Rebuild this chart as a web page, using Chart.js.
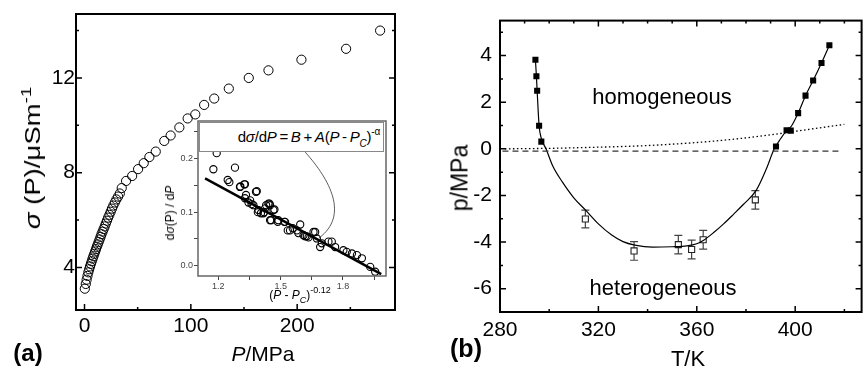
<!DOCTYPE html>
<html><head><meta charset="utf-8">
<script src="https://cdn.jsdelivr.net/npm/chart.js@4.4.1/dist/chart.umd.min.js"></script>
<style>
body{margin:0;background:#fff;}
#wrap{position:relative;width:867px;height:370px;overflow:hidden;background:#fff;font-family:"Liberation Sans",Arial,sans-serif;color:#000}
canvas{position:absolute}
.lbl{position:absolute;white-space:nowrap;transform:translate(-50%,-50%);line-height:1}
sup,sub{line-height:0}
</style></head><body>
<div id="wrap">
<canvas id="ca" width="430" height="370" style="left:0;top:0"></canvas>
<canvas id="cb" width="437" height="370" style="left:430px;top:0"></canvas>
<canvas id="ci" width="245" height="200" style="left:150px;top:110px"></canvas>

<div class="lbl" style="left:33px;top:158px;font-size:22px;transform:translate(-50%,-50%) rotate(-90deg) scaleX(1.25)"><i>σ</i> (P)/μSm<sup style="font-size:15px;vertical-align:9px">-1</sup></div>
<div class="lbl" style="left:263px;top:353px;font-size:21px"><i>P</i>/MPa</div>
<div class="lbl" style="left:28px;top:353px;font-size:24px;font-weight:bold">(a)</div>

<div class="lbl" style="left:170px;top:213px;font-size:12px;transform:translate(-50%,-50%) rotate(-90deg)">d<i>σ</i>(P) / d<i>P</i></div>
<div class="lbl" style="left:300px;top:295px;font-size:12px">(<i>P</i> - <i>P</i><sub style="font-size:9px;vertical-align:-4px"><i>C</i></sub>)<sup style="font-size:9px;vertical-align:6px">-0.12</sup></div>
<div style="position:absolute;left:199px;top:122px;width:185px;height:30px;box-sizing:border-box;border:1.5px solid #888;background:#fff;font-size:15px;white-space:nowrap;text-align:right;padding-right:3px;line-height:27px;letter-spacing:-0.2px"><span>d<i>σ</i>/d<i>P</i>&thinsp;=&thinsp;<i>B</i>&thinsp;+&thinsp;<i>A</i>(<i>P</i>&thinsp;-&thinsp;<i>P</i><sub style="font-size:10px;vertical-align:-5px"><i>C</i></sub>)<sup style="font-size:10px;vertical-align:7px">-α</sup></span></div>

<div class="lbl" style="left:662px;top:97px;font-size:22px">homogeneous</div>
<div class="lbl" style="left:663px;top:288px;font-size:22px">heterogeneous</div>
<div class="lbl" style="left:460px;top:178px;font-size:23px;transform:translate(-50%,-50%) rotate(-90deg)">p/MPa</div>
<div class="lbl" style="left:688px;top:359px;font-size:22px">T/K</div>
<div class="lbl" style="left:466px;top:348px;font-size:25px;font-weight:bold">(b)</div>
</div>
<script>
// ---------- data: panel (a) ----------
const pressureMPa = [0.3,1.2,2.0,2.8,3.6,4.4,5.2,6.0,6.8,7.6,8.4,9.2,10.0,10.8,11.6,12.4,13.3,14.2,15.1,16.0,17.0,18.0,19.0,20.0,21.1,22.2,23.4,24.6,25.8,27.1,28.5,30.0,31.6,33.2,35.0,39.1,44.8,50.4,55.7,61.0,67.0,75.0,81.0,89.2,97.0,104.2,112.5,122.0,135.7,154.5,173.0,204.0,246.0,278.0];
const conductivity = [3.10,3.30,3.48,3.64,3.79,3.92,4.04,4.15,4.26,4.37,4.47,4.57,4.67,4.77,4.87,4.97,5.07,5.18,5.29,5.40,5.51,5.62,5.73,5.85,5.97,6.10,6.22,6.35,6.48,6.61,6.74,6.87,6.99,7.12,7.35,7.65,7.86,8.15,8.40,8.66,8.89,9.34,9.57,9.91,10.29,10.46,10.86,11.13,11.55,12.0,12.32,12.77,13.23,14.0];
// inset
const insetX = [1.192,1.176,1.280,1.245,1.253,1.306,1.325,1.304,1.328,1.333,1.381,1.385,1.328,1.353,1.345,1.360,1.369,1.393,1.417,1.425,1.430,1.441,1.446,1.449,1.465,1.470,1.390,1.405,1.420,1.449,1.454,1.486,1.489,1.518,1.521,1.534,1.545,1.558,1.578,1.585,1.594,1.610,1.618,1.626,1.634,1.658,1.666,1.674,1.690,1.698,1.730,1.746,1.762,1.802,1.818,1.843,1.867,1.891,1.931,1.955];
const insetY = [0.210,0.180,0.183,0.160,0.156,0.148,0.152,0.147,0.152,0.132,0.138,0.139,0.126,0.122,0.118,0.115,0.113,0.104,0.098,0.107,0.113,0.116,0.116,0.113,0.104,0.105,0.100,0.098,0.100,0.085,0.085,0.082,0.085,0.082,0.082,0.066,0.066,0.070,0.066,0.061,0.077,0.057,0.055,0.055,0.053,0.063,0.063,0.051,0.035,0.042,0.045,0.045,0.035,0.029,0.026,0.023,0.020,0.014,-0.002,-0.011];
const fitX = [1.136, 1.984];
const fitY = [0.163, -0.0155];
const calloutX = [1.618, 1.738, 1.830, 1.685];
const calloutY = [0.212, 0.160, 0.094, 0.052];
// ---------- data: panel (b) ----------
const tempFilled = [294.4,294.8,295.1,295.9,296.8,392.2,396.5,398.2,401.2,404.2,407.3,410.7,413.9];
const pFilled    = [3.82,3.11,2.49,0.99,0.31,0.10,0.80,0.78,1.53,2.28,2.93,3.68,4.44];
const tempOpen = [314.7,334.5,352.5,357.9,362.6,383.8];
const pOpen    = [-3.01,-4.38,-4.11,-4.32,-3.90,-2.19];
const pOpenErr = [0.38,0.40,0.40,0.40,0.40,0.40];
const curveT = [294.4,294.8,295.1,295.9,296.8,298.7,301.5,305.4,310,314.7,320,325.4,330,334.8,342,350,356,360,362.8,367,370.9,375,378.9,384.2,388.2,391.5,394,396.5,398.5,401.2,404.2,407.3,410.7,413.9];
const curveP = [3.82,3.11,2.49,0.99,0.45,0.0,-0.75,-1.43,-2.10,-2.62,-3.22,-3.70,-3.98,-4.13,-4.22,-4.20,-4.16,-4.07,-3.92,-3.58,-3.22,-2.80,-2.39,-1.77,-0.88,0.0,0.42,0.78,0.98,1.53,2.28,2.93,3.68,4.44];
const dottedT = [282,300,320,330,340,350,360,370,380,390,400,410,420];
const dottedP = [0.0,0.02,0.07,0.10,0.14,0.20,0.27,0.36,0.47,0.60,0.75,0.90,1.05];
const dashedT = [281,418];
const dashedP = [-0.1,-0.1];
// ---------- tick values ----------
const aXTicks = [0,100,200], aXMinor = [50,150,250];
const aYTicks = [4,8,12], aYMinor = [6,10,14];
const bXTicks = [280,320,360,400], bXMinorBottom = [300,340,380,420];
const bXMinorTop = [290,300,310,330,340,350,370,380,390,410,420];
const bYTicks = [-6,-4,-2,0,2,4], bYMinor = [-7,-5,-3,-1,1,3,5];
const insetXTicks = [1.2,1.5,1.8], insetXMinor = [1.35,1.65,1.95];
const insetYTicks = [0,0.1,0.2], insetYMinor = [0.05,0.15,0.25];

const FONT = '"Liberation Sans", Arial, sans-serif';
const pts = (xs, ys) => xs.map((x, i) => ({x, y: ys[i]}));

const framePlugin = {
  id: 'frame',
  beforeDraw(chart, args, o) {
    if (!o.fill) return;
    const a = chart.chartArea, ctx = chart.ctx;
    ctx.save(); ctx.fillStyle = o.fill;
    ctx.fillRect(a.left, a.top, a.right - a.left, a.bottom - a.top);
    ctx.restore();
  },
  afterDraw(chart, args, o) {
    const {ctx, chartArea: a, scales} = chart;
    ctx.save();
    ctx.strokeStyle = o.color; ctx.lineWidth = o.width;
    ctx.strokeRect(a.left, a.top, a.right - a.left, a.bottom - a.top);
    ctx.lineWidth = o.tickWidth || 1.5;
    ctx.beginPath();
    const t = o.ticks || {};
    for (const side of Object.keys(t)) {
      const spec = t[side];
      const horiz = side === 'top' || side === 'bottom';
      const sc = horiz ? scales.x : scales.y;
      for (const [vals, len] of [[spec.major, o.majorLen], [spec.minor, o.minorLen]]) {
        for (const v of (vals || [])) {
          const p = sc.getPixelForValue(v);
          if (side === 'bottom') { ctx.moveTo(p, a.bottom); ctx.lineTo(p, a.bottom - len); }
          if (side === 'top') { ctx.moveTo(p, a.top); ctx.lineTo(p, a.top + len); }
          if (side === 'left') { ctx.moveTo(a.left, p); ctx.lineTo(a.left + len, p); }
          if (side === 'right') { ctx.moveTo(a.right, p); ctx.lineTo(a.right - len, p); }
        }
      }
    }
    ctx.stroke();
    ctx.restore();
  }
};

const errorBars = {
  id: 'errorBars',
  beforeDatasetsDraw(chart) {
    const {ctx, scales} = chart;
    chart.data.datasets.forEach((ds, i) => {
      if (!ds.errors) return;
      const meta = chart.getDatasetMeta(i);
      ctx.save();
      ctx.strokeStyle = '#444'; ctx.lineWidth = 1.2;
      meta.data.forEach((el, j) => {
        const v = ds.data[j].y, e = ds.errors[j];
        const y1 = scales.y.getPixelForValue(v + e), y2 = scales.y.getPixelForValue(v - e);
        ctx.beginPath();
        ctx.moveTo(el.x, y1); ctx.lineTo(el.x, y2);
        ctx.moveTo(el.x - 4, y1); ctx.lineTo(el.x + 4, y1);
        ctx.moveTo(el.x - 4, y2); ctx.lineTo(el.x + 4, y2);
        ctx.stroke();
      });
      ctx.restore();
    });
  }
};

const callout = {
  id: 'callout',
  afterDatasetsDraw(chart) {
    const {ctx, scales} = chart;
    const px = calloutX.map(v => scales.x.getPixelForValue(v));
    const py = calloutY.map(v => scales.y.getPixelForValue(v));
    ctx.save();
    ctx.strokeStyle = '#333'; ctx.lineWidth = 0.8;
    ctx.beginPath();
    ctx.moveTo(px[0], py[0]);
    ctx.bezierCurveTo(px[1], py[1], px[2], py[2], px[3], py[3]);
    ctx.stroke();
    ctx.restore();
  }
};

const fixTicks = (vals) => s => { s.ticks = vals.map(v => ({value: v})); };
const baseOpts = {
  responsive: false, animation: false, devicePixelRatio: 1,
  events: [],
};

// ---------- chart (a) ----------
new Chart(document.getElementById('ca'), {
  type: 'scatter',
  data: { datasets: [{
    data: pts(pressureMPa, conductivity),
    pointRadius: 4.6, pointBorderWidth: 1, pointBorderColor: '#000',
    pointBackgroundColor: 'rgba(0,0,0,0)', showLine: false
  }]},
  options: Object.assign({}, baseOpts, {
    layout: {padding: {left: 0, top: 14, right: 35, bottom: 0}},
    plugins: {
      legend: {display: false}, tooltip: {enabled: false},
      frame: {color: '#000', width: 2, tickWidth: 1.5, majorLen: 6, minorLen: 3,
        ticks: {bottom: {major: aXTicks, minor: aXMinor}, left: {major: aYTicks, minor: aYMinor}, right: {major: aYTicks, minor: aYMinor}}}
    },
    scales: {
      x: {type: 'linear', min: -8, max: 292,
        grid: {display: false, drawTicks: false}, border: {display: false},
        ticks: {autoSkip: false, maxRotation: 0, color: '#000', padding: 4, font: {family: FONT, size: 21}},
        afterBuildTicks: fixTicks(aXTicks), afterFit: s => { s.height = 60; }},
      y: {type: 'linear', min: 2.2, max: 14.7,
        grid: {display: false, drawTicks: false}, border: {display: false},
        ticks: {autoSkip: false, color: '#000', padding: 1, font: {family: FONT, size: 21}},
        afterBuildTicks: fixTicks(aYTicks), afterFit: s => { s.width = 76; }}
    }
  }),
  plugins: [framePlugin]
});

// ---------- inset ----------
const insetAllX = insetXTicks.concat(insetXMinor).sort((a, b) => a - b);
const insetAllY = insetYTicks.concat(insetYMinor).sort((a, b) => a - b);
new Chart(document.getElementById('ci'), {
  type: 'scatter',
  data: { datasets: [
    {data: pts(fitX, fitY), showLine: true, borderColor: '#000', borderWidth: 2.5, pointRadius: 0},
    {data: pts(insetX, insetY), showLine: false, pointRadius: 3.6, pointBorderWidth: 1.1,
     pointBorderColor: '#000', pointBackgroundColor: 'rgba(0,0,0,0)'}
  ]},
  options: Object.assign({}, baseOpts, {
    layout: {padding: {left: 0, top: 11, right: 9, bottom: 0}},
    plugins: {
      legend: {display: false}, tooltip: {enabled: false},
      frame: {color: '#666', width: 1.5, fill: '#fff', ticks: {}}
    },
    scales: {
      x: {type: 'linear', min: 1.102, max: 2.007,
        grid: {display: true, drawOnChartArea: false, drawTicks: true, tickLength: 4, color: '#444', lineWidth: 1},
        border: {display: false},
        ticks: {autoSkip: false, maxRotation: 0, color: '#444', padding: 1, font: {family: FONT, size: 9},
          callback: v => insetXTicks.some(t => Math.abs(t - v) < 1e-6) ? v.toFixed(1) : ''},
        afterBuildTicks: fixTicks(insetAllX), afterFit: s => { s.height = 34; }},
      y: {type: 'linear', min: -0.019, max: 0.27,
        grid: {display: true, drawOnChartArea: false, drawTicks: true, tickLength: 4, color: '#444', lineWidth: 1},
        border: {display: false},
        ticks: {autoSkip: false, color: '#444', padding: 1, font: {family: FONT, size: 9},
          callback: v => insetYTicks.some(t => Math.abs(t - v) < 1e-6) ? v.toFixed(1) : ''},
        afterBuildTicks: fixTicks(insetAllY), afterFit: s => { s.width = 48; }}
    }
  }),
  plugins: [framePlugin, callout]
});

// ---------- chart (b) ----------
new Chart(document.getElementById('cb'), {
  type: 'scatter',
  data: { datasets: [
    {data: pts(dashedT, dashedP), showLine: true, borderColor: '#333', borderWidth: 1.3, borderDash: [6, 4], pointRadius: 0},
    {data: pts(dottedT, dottedP), showLine: true, borderColor: '#000', borderWidth: 1.3, borderDash: [1.5, 2.5], pointRadius: 0, cubicInterpolationMode: 'monotone'},
    {data: pts(curveT, curveP), showLine: true, borderColor: '#000', borderWidth: 1.2, pointRadius: 0, cubicInterpolationMode: 'monotone'},
    {data: pts(tempOpen, pOpen), errors: pOpenErr, showLine: false, pointStyle: 'rect', pointRadius: 4.3,
     pointBorderWidth: 1.1, pointBorderColor: '#222', pointBackgroundColor: '#fff'},
    {data: pts(tempFilled, pFilled), showLine: false, pointStyle: 'rect', pointRadius: 4.3,
     pointBorderWidth: 0, pointBackgroundColor: '#000'}
  ]},
  options: Object.assign({}, baseOpts, {
    layout: {padding: {left: 0, top: 8, right: 1, bottom: 0}},
    plugins: {
      legend: {display: false}, tooltip: {enabled: false},
      frame: {color: '#000', width: 2, tickWidth: 1.5, majorLen: 6, minorLen: 3,
        ticks: {bottom: {major: bXTicks, minor: bXMinorBottom}, top: {major: bXTicks, minor: bXMinorTop},
                left: {major: bYTicks, minor: bYMinor}, right: {major: bYTicks, minor: bYMinor}}}
    },
    scales: {
      x: {type: 'linear', min: 280, max: 427,
        grid: {display: false, drawTicks: false}, border: {display: false},
        ticks: {autoSkip: false, maxRotation: 0, color: '#000', padding: 6, font: {family: FONT, size: 21}},
        afterBuildTicks: fixTicks(bXTicks), afterFit: s => { s.height = 58; }},
      y: {type: 'linear', min: -7, max: 5.5,
        grid: {display: false, drawTicks: false}, border: {display: false},
        ticks: {autoSkip: false, color: '#000', padding: 8, font: {family: FONT, size: 21}},
        afterBuildTicks: fixTicks(bYTicks), afterFit: s => { s.width = 70; }}
    }
  }),
  plugins: [framePlugin, errorBars]
});
</script>
</body></html>
